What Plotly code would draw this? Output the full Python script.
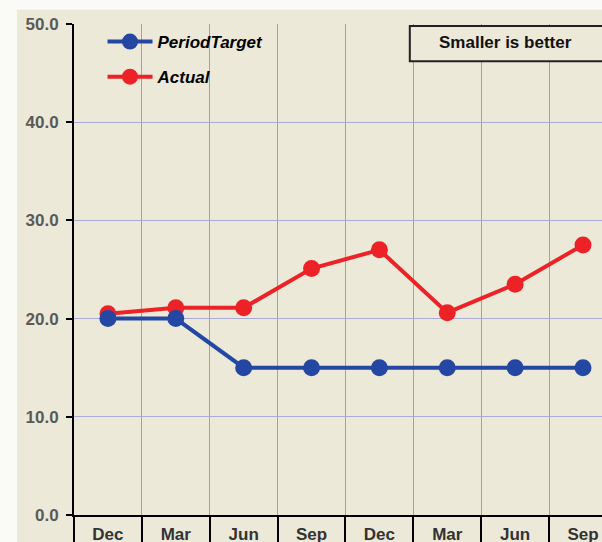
import plotly.graph_objects as go

periods = ["Dec", "Mar", "Jun", "Sep", "Dec", "Mar", "Jun", "Sep"]
period_target = [20.0, 20.0, 15.0, 15.0, 15.0, 15.0, 15.0, 15.0]
actual = [20.5, 21.1, 21.1, 25.1, 27.0, 20.6, 23.5, 27.5]
y_ticks = [0, 10, 20, 30, 40, 50]
note_text = "Smaller is better"

x_pos = list(range(len(periods)))

BEIGE = "#ECE9D8"
GRID = "#A9A9DA"
VGRID = "#9A9AE4"
BLUE = "#2347A3"
RED = "#EC2227"
FONT = "Liberation Sans, Arial, sans-serif"

fig = go.Figure()
fig.add_trace(go.Scatter(
    x=x_pos, y=actual, name="Actual", mode="lines+markers",
    line=dict(color=RED, width=4), marker=dict(color=RED, size=17),
    legendrank=2, legendgroup="a",
))
fig.add_trace(go.Scatter(
    x=x_pos, y=period_target, name="PeriodTarget", mode="lines+markers",
    line=dict(color=BLUE, width=4), marker=dict(color=BLUE, size=17),
    legendrank=1, legendgroup="t",
))

fig.update_layout(
    width=602, height=542,
    margin=dict(l=74, r=0, t=24, b=27, pad=0, autoexpand=False),
    paper_bgcolor="#FAFAF6",
    plot_bgcolor=BEIGE,
    font=dict(family=FONT, size=17, color="#333333"),
    showlegend=True,
    legend=dict(
        x=0.054, y=1.0, xanchor="left", yanchor="top",
        bgcolor="rgba(0,0,0,0)",
        font=dict(family=FONT, size=17, color="#000000", weight="bold", style="italic"),
        traceorder="grouped", tracegroupgap=10, itemwidth=45,
    ),
    xaxis=dict(
        range=[-0.5, 7.28], automargin=False,
        tickmode="array", tickvals=x_pos, ticktext=periods,
        ticks="", showgrid=False, zeroline=False,
        showline=True, linecolor="#000000", linewidth=2,
        tickfont=dict(family=FONT, size=17, color="#333333", weight="bold"),
        ticklabelstandoff=3,
        minor=dict(tick0=-0.5, dtick=1, ticks="outside", ticklen=26,
                   tickcolor="#000000", tickwidth=1.5,
                   showgrid=True, gridcolor=VGRID, gridwidth=1.2),
    ),
    yaxis=dict(
        range=[0, 50], tickmode="array", tickvals=y_ticks, automargin=False,
        tickformat=".1f",
        ticks="outside", ticklen=6, tickcolor="#000000", tickwidth=1.5,
        showgrid=True, gridcolor=GRID, gridwidth=1, zeroline=False,
        showline=True, linecolor="#000000", linewidth=2,
        tickfont=dict(family=FONT, size=17, color="#5A5A5A", weight="bold"),
        ticklabelstandoff=4,
    ),
)

# beige panel behind the whole chart (light strip at top/left like the reference)
fig.add_shape(type="rect", xref="paper", yref="paper",
              x0=-0.108, x1=1.01, y0=-0.2, y1=1.029,
              fillcolor=BEIGE, line=dict(width=0), layer="below")

# "Smaller is better" box
fig.add_shape(type="rect", xref="paper", yref="y",
              x0=0.636, x1=1.02, y0=46.2, y1=49.8,
              fillcolor=BEIGE, line=dict(color="#222222", width=2), layer="above")
fig.add_annotation(x=0.818, y=48.1, xref="paper", yref="y",
                   xanchor="center", yanchor="middle",
                   text=note_text, showarrow=False,
                   font=dict(family=FONT, size=17, color="#111111", weight="bold"))

fig.write_html("out.html", config={"displayModeBar": False},
               post_script="document.body.style.margin='0';")
